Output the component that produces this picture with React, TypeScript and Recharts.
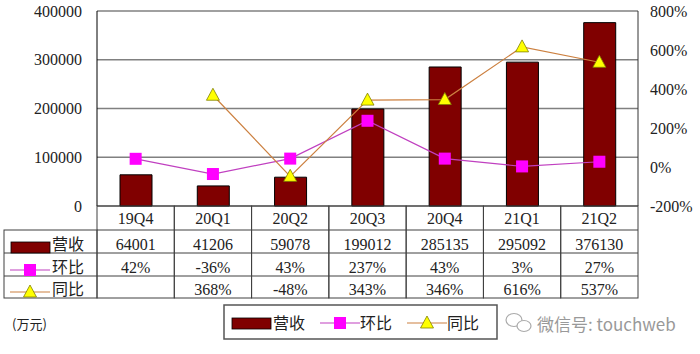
import { ComposedChart, Bar, Line, XAxis, YAxis, CartesianGrid } from "recharts";

const quarters = ["19Q4", "20Q1", "20Q2", "20Q3", "20Q4", "21Q1", "21Q2"];
const revenue = [64001, 41206, 59078, 199012, 285135, 295092, 376130];
const qoq = [42, -36, 43, 237, 43, 3, 27];
const yoy: (number | null)[] = [null, 368, -48, 343, 346, 616, 537];
const leftTicks = [0, 100000, 200000, 300000, 400000];
const rightTicks = [-200, 0, 200, 400, 600, 800];

const data = quarters.map((q, i) => ({ q, revenue: revenue[i], qoq: qoq[i], yoy: yoy[i] }));

const W = 700;
const H = 354;
const PLOT_L = 97;
const PLOT_R = 638;
const TABLE_TOP = 206;
const ROWS = [230, 253, 276, 298];
const COL_W = (PLOT_R - PLOT_L) / quarters.length;

const BAR = "#800000";
const QOQ_LINE = "#c040c0";
const QOQ_DOT = "#ff00ff";
const YOY_LINE = "#cc8040";
const YOY_DOT = "#ffff00";
const TABLE_LINE = "#404040";
const NUM_FONT = "'Liberation Serif', 'Noto Sans CJK SC', serif";
const CJK_FONT = "'Noto Sans CJK SC', sans-serif";

const pct = (v: number | null) => (v == null ? "" : `${v}%`);

const TableTick = (props: any) => {
  const { x, payload } = props;
  const i = quarters.indexOf(payload.value);
  const left = x - COL_W / 2;
  const cells = [payload.value, String(revenue[i]), pct(qoq[i]), pct(yoy[i])];
  const mids = [218, 244, 267, 289];
  return (
    <g>
      <rect x={left} y={TABLE_TOP} width={COL_W} height={ROWS[3] - TABLE_TOP} fill="none" stroke={TABLE_LINE} strokeWidth={1} />
      {ROWS.slice(0, 3).map((y) => (
        <line key={y} x1={left} x2={left + COL_W} y1={y} y2={y} stroke={TABLE_LINE} strokeWidth={1} />
      ))}
      {cells.map((t, k) => (
        <text key={k} x={x} y={mids[k]} textAnchor="middle" dominantBaseline="central" fontSize={16} fontFamily={NUM_FONT} fill="#222">
          {t}
        </text>
      ))}
    </g>
  );
};

const SquareDot = (p: any) =>
  p.cy == null ? <g key={p.index} /> : <rect key={p.index} x={p.cx - 6} y={p.cy - 6} width={12} height={12} fill={QOQ_DOT} />;

const TriDot = (p: any) =>
  p.cy == null || p.value == null ? (
    <g key={p.index} />
  ) : (
    <path key={p.index} d={`M${p.cx},${p.cy - 7} L${p.cx + 6.5},${p.cy + 5} L${p.cx - 6.5},${p.cy + 5} Z`} fill={YOY_DOT} stroke="#808000" strokeWidth={0.8} />
  );

const BarIcon = ({ x, y }: { x: number; y: number }) => <rect x={x} y={y - 5} width={39} height={11} fill={BAR} stroke="#000" strokeWidth={0.8} />;
const QoqIcon = ({ x, y }: { x: number; y: number }) => (
  <g>
    <line x1={x} x2={x + 40} y1={y} y2={y} stroke={QOQ_LINE} strokeWidth={1.2} />
    <rect x={x + 14} y={y - 6} width={12} height={12} fill={QOQ_DOT} />
  </g>
);
const YoyIcon = ({ x, y }: { x: number; y: number }) => (
  <g>
    <line x1={x} x2={x + 40} y1={y} y2={y} stroke={YOY_LINE} strokeWidth={1.2} />
    <path d={`M${x + 20},${y - 7} L${x + 26.5},${y + 5} L${x + 13.5},${y + 5} Z`} fill={YOY_DOT} stroke="#808000" strokeWidth={0.8} />
  </g>
);

const Label = ({ x, y, children, size = 16, fill = "#222" }: any) => (
  <text x={x} y={y} dominantBaseline="central" fontSize={size} fontFamily={CJK_FONT} fill={fill}>
    {children}
  </text>
);

const App = () => {
  return (
    <div style={{ position: "absolute", left: 0, top: 0, width: W, height: H, background: "#fff" }}>
      <ComposedChart width={W} height={H} data={data} margin={{ top: 11, right: 7, bottom: 56, left: 7 }}>
        <CartesianGrid yAxisId="left" horizontal vertical={false} stroke="#808080" strokeWidth={1.5} />
        <XAxis dataKey="q" height={92} axisLine={false} tickLine={false} interval={0} tick={<TableTick />} />
        <YAxis
          yAxisId="left"
          width={90}
          domain={[0, 400000]}
          ticks={leftTicks}
          axisLine={{ stroke: "#000" }}
          tickLine={false}
          tickSize={6}
          tickMargin={9}
          tick={{ fontSize: 16, fontFamily: NUM_FONT, fill: "#222" }}
        />
        <YAxis
          yAxisId="right"
          orientation="right"
          width={55}
          domain={[-200, 800]}
          ticks={rightTicks}
          tickFormatter={(v) => `${v}%`}
          axisLine={{ stroke: "#333" }}
          tickLine={false}
          tickSize={6}
          tickMargin={6}
          tick={{ fontSize: 16, fontFamily: NUM_FONT, fill: "#222" }}
        />
        <Bar yAxisId="left" dataKey="revenue" name="营收" fill={BAR} stroke="#000" strokeWidth={1} barSize={32} isAnimationActive={false} />
        <Line yAxisId="right" dataKey="qoq" name="环比" stroke={QOQ_LINE} strokeWidth={1.2} dot={SquareDot} activeDot={false} isAnimationActive={false} />
        <Line yAxisId="right" dataKey="yoy" name="同比" stroke={YOY_LINE} strokeWidth={1.2} dot={TriDot} activeDot={false} connectNulls={false} isAnimationActive={false} />
      </ComposedChart>
      <svg width={W} height={H} style={{ position: "absolute", left: 0, top: 0, pointerEvents: "none" }}>
        <rect x={4} y={ROWS[0]} width={PLOT_L - 4} height={ROWS[3] - ROWS[0]} fill="none" stroke={TABLE_LINE} strokeWidth={1} />
        <line x1={4} x2={PLOT_L} y1={ROWS[1]} y2={ROWS[1]} stroke={TABLE_LINE} />
        <line x1={4} x2={PLOT_L} y1={ROWS[2]} y2={ROWS[2]} stroke={TABLE_LINE} />
        <BarIcon x={11} y={247} />
        <Label x={52} y={243}>营收</Label>
        <QoqIcon x={10} y={270} />
        <Label x={52} y={266}>环比</Label>
        <YoyIcon x={10} y={292} />
        <Label x={52} y={288}>同比</Label>

        <Label x={12} y={323} size={13}>(万元)</Label>

        <rect x={224} y={305} width={273} height={34} fill="#fff" stroke="#555" strokeWidth={1.5} />
        <BarIcon x={232} y={323} />
        <Label x={273} y={322}>营收</Label>
        <QoqIcon x={320} y={323} />
        <Label x={360} y={322}>环比</Label>
        <YoyIcon x={407} y={323} />
        <Label x={447} y={322}>同比</Label>

        <g stroke="#aaa" fill="none" strokeWidth={1.2}>
          <ellipse cx={514} cy={320} rx={8} ry={6.5} />
          <ellipse cx={524} cy={326} rx={7} ry={5.5} fill="#fff" />
        </g>
        <Label x={537} y={323} size={17} fill="#999">微信号: touchweb</Label>
      </svg>
    </div>
  );
};

export default App;
